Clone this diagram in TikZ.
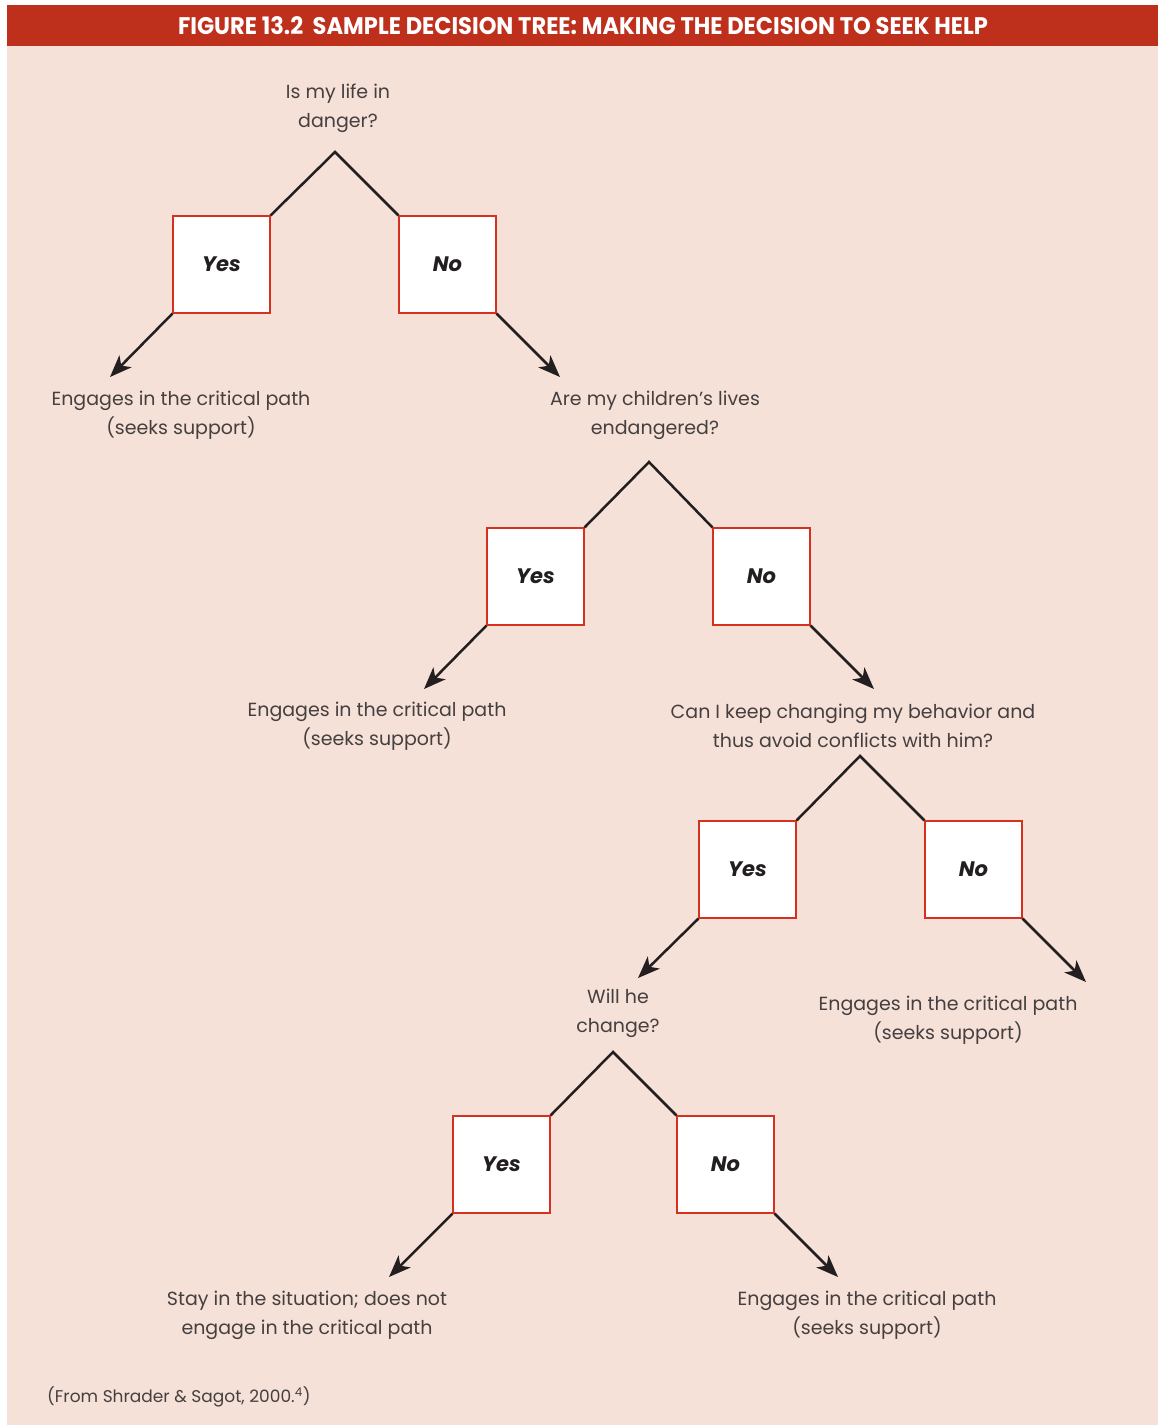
\documentclass[tikz,border=0pt]{standalone}
\usepackage{fontspec}
\setmainfont{Poppins}
\usetikzlibrary{arrows.meta}
\definecolor{bandred}{HTML}{BE2F1C}
\definecolor{bgpink}{HTML}{F5E1D7}
\definecolor{boxred}{HTML}{D6301F}
\definecolor{txtgrey}{HTML}{453F40}
\definecolor{linek}{HTML}{231F20}
\tikzset{
  ansbox/.style={draw=boxred, line width=1.2pt, fill=white, minimum width=97pt, minimum height=97pt, inner sep=0pt, font=\fontsize{21}{25}\selectfont\bfseries\itshape, text=linek},
  lbl/.style={align=center, text=txtgrey, inner sep=0pt, font=\fontsize{19}{29}\selectfont},
  branch/.style={draw=linek, line width=2.5pt},
  arr/.style={draw=linek, line width=2.5pt, -{Stealth[length=22pt, width=17pt, inset=6pt]}}
}
\begin{document}
\begin{tikzpicture}[x=1pt,y=-1pt]
\useasboundingbox (0,0) rectangle (1158,1425);
\fill[white] (0,0) rectangle (1158,1425);
\fill[bgpink] (7,46) rectangle (1158,1425);
\fill[bandred] (7,5) rectangle (1158,46);
\node[text=white, font=\fontsize{24}{28}\selectfont\bfseries] (title) at (583,26) {\scalebox{0.94}[1]{FIGURE 13.2\ \ SAMPLE DECISION TREE: MAKING THE DECISION TO SEEK HELP}};

% Level 1
\node[lbl] (q1) at (338,108) {Is my life in\\danger?};
\coordinate (ap1) at (335,152);
\node[ansbox] (y1) at (221.5,264.5) {Yes};
\node[ansbox] (n1) at (447.5,264.5) {No};
\draw[branch] (y1.north east) -- (ap1) -- (n1.north west);
\coordinate (e1a) at (110,377);
\coordinate (e1b) at (560,377);
\draw[arr] (y1.south west) -- (e1a);
\draw[arr] (n1.south east) -- (e1b);
\node[lbl] (l1) at (181,415) {Engages in the critical path\\(seeks support)};
\node[lbl] (q2) at (655,415) {Are my children’s lives\\endangered?};

% Level 2
\coordinate (ap2) at (649,462);
\node[ansbox] (y2) at (535.5,576.5) {Yes};
\node[ansbox] (n2) at (761.5,576.5) {No};
\draw[branch] (y2.north east) -- (ap2) -- (n2.north west);
\coordinate (e2a) at (424,689);
\coordinate (e2b) at (874,689);
\draw[arr] (y2.south west) -- (e2a);
\draw[arr] (n2.south east) -- (e2b);
\node[lbl] (l2) at (377,726) {Engages in the critical path\\(seeks support)};
\node[lbl] (q3) at (853,726) {Can I keep changing my behavior and\\thus avoid conflicts with him?};

% Level 3
\coordinate (ap3) at (860,756);
\node[ansbox] (y3) at (747.5,869.5) {Yes};
\node[ansbox] (n3) at (973.5,869.5) {No};
\draw[branch] (y3.north east) -- (ap3) -- (n3.north west);
\coordinate (e3a) at (638,978);
\coordinate (e3b) at (1086,982);
\draw[arr] (y3.south west) -- (e3a);
\draw[arr] (n3.south east) -- (e3b);
\node[lbl] (q4) at (618,1013) {Will he\\change?};
\node[lbl] (l3) at (948,1020) {Engages in the critical path\\(seeks support)};

% Level 4
\coordinate (ap4) at (613,1052);
\node[ansbox] (y4) at (501.5,1164.5) {Yes};
\node[ansbox] (n4) at (725.5,1164.5) {No};
\draw[branch] (y4.north east) -- (ap4) -- (n4.north west);
\coordinate (e4a) at (389,1277);
\coordinate (e4b) at (838,1277);
\draw[arr] (y4.south west) -- (e4a);
\draw[arr] (n4.south east) -- (e4b);
\node[lbl] (l4) at (307,1315) {Stay in the situation; does not\\engage in the critical path};
\node[lbl] (l5) at (867,1315) {Engages in the critical path\\(seeks support)};

\node[lbl, anchor=west, font=\fontsize{17}{20}\selectfont] (src) at (47,1397) {(From Shrader \& Sagot, 2000.\textsuperscript{4})};
\end{tikzpicture}
\end{document}
